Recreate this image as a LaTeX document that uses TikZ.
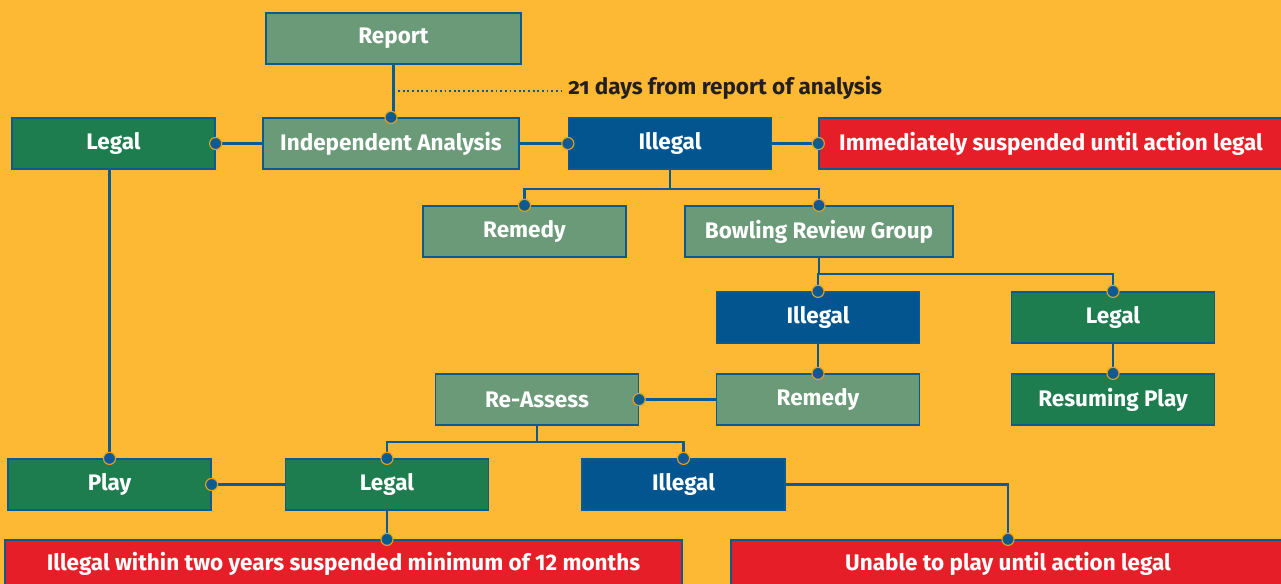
\documentclass[tikz,border=0pt]{standalone}
\usepackage{fontspec}
\setmainfont{Fira Sans}
\usetikzlibrary{positioning, calc}

\definecolor{bgyellow}{HTML}{FDB933}
\definecolor{sage}{HTML}{6B9A78}
\definecolor{leafgreen}{HTML}{1E7D4F}
\definecolor{deepblue}{HTML}{02558F}
\definecolor{alertred}{HTML}{E61E28}
\definecolor{lineblue}{HTML}{0B5A91}
\definecolor{dotring}{HTML}{E8A11F}
\definecolor{notegray}{HTML}{231F20}

\begin{document}
\begin{tikzpicture}[x=0.025cm, y=-0.025cm, font=\fontsize{16}{19}\selectfont\bfseries]
    % Styles
    \tikzstyle{box} = [rectangle, draw=lineblue, line width=0.9pt, text=white,
                       minimum width=5.075cm, minimum height=1.275cm, inner sep=0pt]
    \tikzstyle{sagebox} = [box, fill=sage]
    \tikzstyle{greenbox} = [box, fill=leafgreen]
    \tikzstyle{bluebox} = [box, fill=deepblue]
    \tikzstyle{redbox} = [box, fill=alertred]
    \tikzstyle{link} = [draw=lineblue, line width=1.5pt]
    \tikzstyle{joint} = [fill=lineblue, draw=dotring, line width=0.8pt]

    % Background
    \path[use as bounding box, fill=bgyellow] (0,0) rectangle (1281,584);

    % Nodes
    \node[sagebox, minimum width=6.375cm] (report) at (393.5,38.5) {Report};
    \node[greenbox] (legalA) at (113.5,143.5) {Legal};
    \node[sagebox, minimum width=6.4cm] (analysis) at (391,143.5) {Independent Analysis};
    \node[bluebox] (illegalA) at (670,143.5) {Illegal};
    \node[redbox, minimum width=11.6cm] (suspend) at (1051,143.5) {Immediately suspended until action legal};
    \node[sagebox] (remedyA) at (524.5,231.5) {Remedy};
    \node[sagebox, minimum width=6.7cm] (review) at (819,231.5) {Bowling Review Group};
    \node[bluebox] (illegalB) at (818,317.5) {Illegal};
    \node[greenbox] (legalB) at (1113,317.5) {Legal};
    \node[sagebox] (reassess) at (537,399.5) {Re-Assess};
    \node[sagebox] (remedyB) at (818,399.5) {Remedy};
    \node[greenbox] (resume) at (1113,399.5) {Resuming Play};
    \node[greenbox] (play) at (109.5,484.5) {Play};
    \node[greenbox] (legalC) at (387,484.5) {Legal};
    \node[bluebox] (illegalC) at (683.5,484.5) {Illegal};
    \node[redbox, minimum width=16.925cm, minimum height=1.2cm] (banA) at (343.5,564)
        {Illegal within two years suspended minimum of 12 months};
    \node[redbox, minimum width=13.85cm, minimum height=1.2cm] (banB) at (1008,564)
        {Unable to play until action legal};
    \node[anchor=west, text=notegray, inner sep=0pt] (daysnote) at (568,88)
        {{\addfontfeatures{Numbers=OldStyle}21} days from report of analysis};

    % Connections
    \draw[link] (report.south) -- (report.south |- analysis.north);
    \coordinate (notestart) at ($(report.south)!0.5!(report.south |- analysis.north)$);
    \draw[lineblue, dotted, line width=1.3pt] (notestart) -- ([xshift=-3pt]daysnote.west |- notestart);
    \draw[link] (analysis.west) -- (legalA.east);
    \draw[link] (analysis.east) -- (illegalA.west);
    \draw[link] (illegalA.east) -- (suspend.west);
    \draw[link] (illegalA.south) -- ++(0,19) coordinate (forkA) -| (remedyA.north);
    \draw[link] (forkA) -| (review.north);
    \draw[link] (review.south) -- ++(0,16) coordinate (forkB) -| (illegalB.north);
    \draw[link] (forkB) -| (legalB.north);
    \draw[link] (illegalB.south) -- (remedyB.north);
    \draw[link] (legalB.south) -- (resume.north);
    \draw[link] (remedyB.west) -- (reassess.east);
    \draw[link] (reassess.south) -- ++(0,16) coordinate (forkC) -| (legalC.north);
    \draw[link] (forkC) -| (illegalC.north);
    \draw[link] (legalA.south -| play.north) -- (play.north);
    \draw[link] (legalC.west) -- (play.east);
    \coordinate (bantop) at (legalC.south |- banA.north);
    \draw[link] (legalC.south) -- (bantop);
    \draw[link] (illegalC.east) -| (banB.north);

    % Joints
    \foreach \p in {analysis.north, legalA.east, illegalA.west, suspend.west,
                    remedyA.north, review.north, illegalB.north, legalB.north,
                    remedyB.north, resume.north, reassess.east, legalC.north,
                    illegalC.north, play.north, play.east, bantop, banB.north}
        \filldraw[joint] (\p) circle (4.3pt);
\end{tikzpicture}
\end{document}
